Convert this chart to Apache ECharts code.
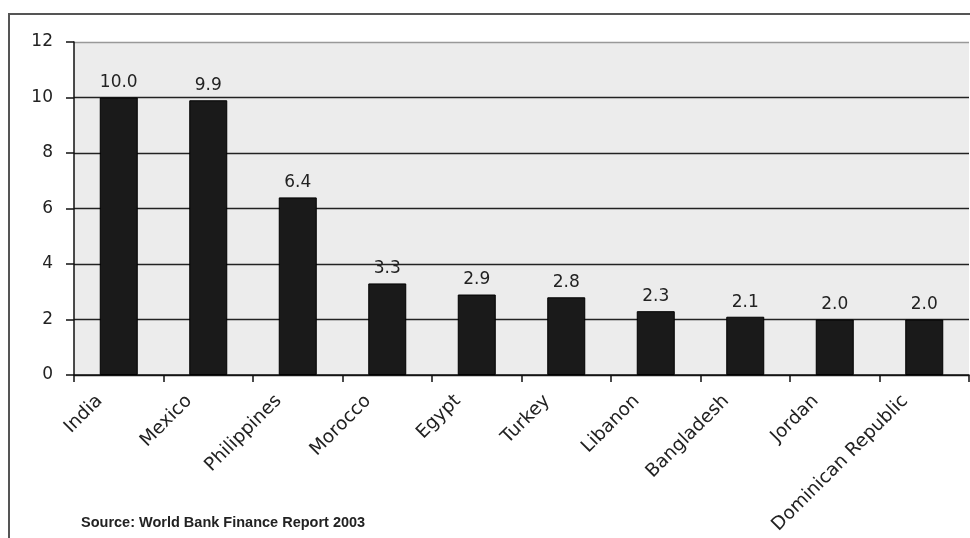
<!DOCTYPE html>
<html>
<head>
<meta charset="utf-8">
<script src="https://cdn.jsdelivr.net/npm/echarts@6/dist/echarts.min.js"></script>
<style>html,body{margin:0;padding:0;background:#fff;}#c{width:970px;height:538px;}</style>
</head>
<body>
<div id="c"></div>
<script>
var categories = ['India','Mexico','Philippines','Morocco','Egypt','Turkey','Libanon','Bangladesh','Jordan','Dominican Republic'];
var values = [10.0, 9.9, 6.4, 3.3, 2.9, 2.8, 2.3, 2.1, 2.0, 2.0];
var yTicks = [0, 2, 4, 6, 8, 10, 12];
var sourceText = 'Source: World Bank Finance Report 2003';

var chart = echarts.init(document.getElementById('c'));
var font = '"DejaVu Sans", Verdana, sans-serif';
var font2 = '"Liberation Sans", Arial, Helvetica, sans-serif';
chart.setOption({
  animation: false,
  backgroundColor: '#fff',
  grid: {left: 74, top: 42, right: 1, height: 333, show: true, backgroundColor: '#ececec', borderWidth: 0},
  xAxis: {
    type: 'category', data: categories,
    axisLine: {lineStyle: {color: '#111', width: 1.5}},
    axisTick: {show: true, length: 7, alignWithLabel: false, lineStyle: {color: '#111', width: 1.5}},
    axisLabel: {rotate: 45, margin: 4, fontSize: 18.5, color: '#222', fontFamily: font, interval: 0, padding: [0, 27, 0, 0]}
  },
  yAxis: {
    type: 'value', min: yTicks[0], max: yTicks[yTicks.length-1], interval: 2,
    axisLine: {show: true, lineStyle: {color: '#111', width: 1.5}},
    axisTick: {show: true, length: 8, lineStyle: {color: '#111', width: 1.5}},
    axisLabel: {fontSize: 17, color: '#222', fontFamily: font, margin: 21},
    splitLine: {show: true, lineStyle: {color: ['#222','#222','#222','#222','#222','#222','#999'], width: 1.4}}
  },
  series: [{
    type: 'bar', data: values, barWidth: 38,
    itemStyle: {color: '#1a1a1a', borderColor: '#000', borderWidth: 1},
    label: {show: true, position: 'top', distance: 6, fontSize: 17, color: '#222', fontFamily: font,
      formatter: function(p){ return p.value.toFixed(1); }}
  }],
  graphic: [
    {type: 'rect', shape: {x: 9, y: 14, width: 1000, height: 600}, style: {fill: 'none', stroke: '#555', lineWidth: 2}, silent: true},
    {type: 'text', left: 81, top: 515, style: {text: sourceText, fontSize: 14.5, fontWeight: 'bold', fill: '#222', fontFamily: font2}}
  ]
});
</script>
</body>
</html>
